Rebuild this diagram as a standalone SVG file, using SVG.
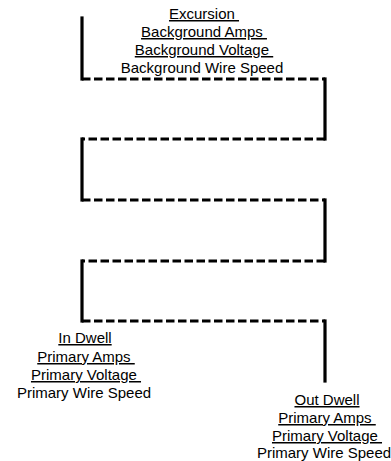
<svg xmlns="http://www.w3.org/2000/svg" width="391" height="461" viewBox="0 0 391 461">
<style>
.t{font-family:"Liberation Sans",Arial,sans-serif;font-size:15px;fill:#000;text-anchor:middle;white-space:pre}
.u{text-decoration:underline}
.solid{stroke:#000;stroke-width:3.2;fill:none;stroke-linecap:square}
.dash{stroke:#000;stroke-width:3.2;fill:none;stroke-dasharray:8.5 3.5;stroke-linecap:butt}
</style>
<rect width="391" height="461" fill="#fff"/>
<g id="connectors">
<path class="solid" d="M82,18 V79"/>
<path class="dash" d="M82,79 H325"/>
<path class="solid" d="M325,79 V139"/>
<path class="dash" d="M325,139 H82"/>
<path class="solid" d="M82,139 V200"/>
<path class="dash" d="M82,200 H325"/>
<path class="solid" d="M325,200 V261"/>
<path class="dash" d="M325,261 H82"/>
<path class="solid" d="M82,261 V321"/>
<path class="dash" d="M82,321 H325"/>
<path class="solid" d="M325,321 V381"/>
</g>
<g id="excursion">
<text class="t u" x="204" y="19">Excursion </text>
<text class="t u" x="204" y="37">Background Amps </text>
<text class="t u" x="204" y="55">Background Voltage </text>
<text class="t" x="202" y="73">Background Wire Speed</text>
</g>
<g id="in-dwell">
<text class="t u" x="85" y="343">In Dwell</text>
<text class="t u" x="86" y="362">Primary Amps </text>
<text class="t u" x="86" y="380">Primary Voltage </text>
<text class="t" x="84" y="398">Primary Wire Speed</text>
</g>
<g id="out-dwell">
<text class="t u" x="327" y="405">Out Dwell</text>
<text class="t u" x="327" y="423">Primary Amps </text>
<text class="t u" x="327" y="441">Primary Voltage </text>
<text class="t" x="324" y="458">Primary Wire Speed</text>
</g>
</svg>
